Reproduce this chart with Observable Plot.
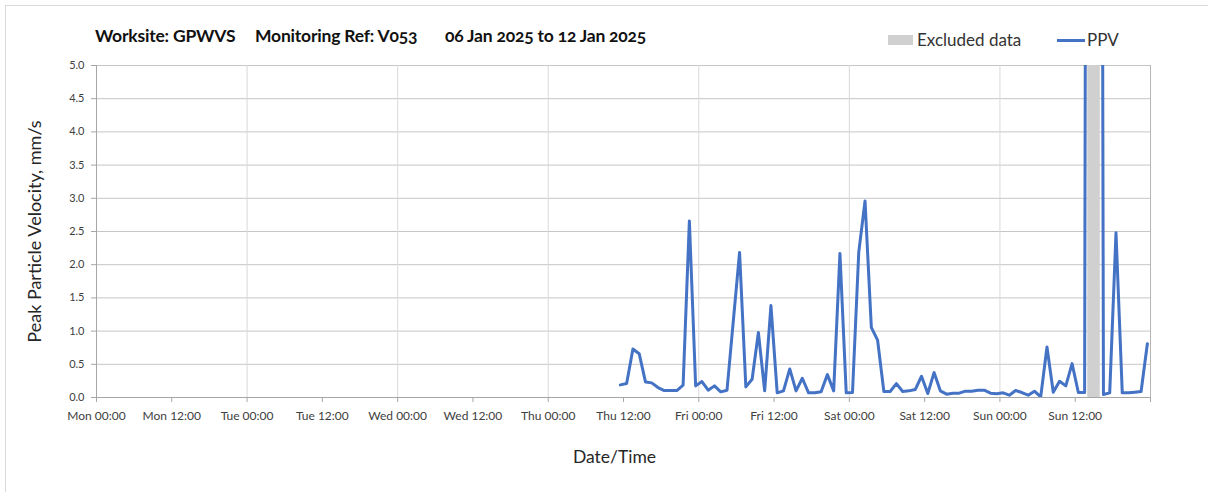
<!DOCTYPE html>
<html>
<head>
<meta charset="utf-8">
<script src="https://cdn.jsdelivr.net/npm/d3@7"></script>
<script src="https://cdn.jsdelivr.net/npm/@observablehq/plot@0.6"></script>
<style>
  html, body { margin: 0; padding: 0; background: #fff; overflow: hidden; width: 1208px; height: 492px; }
  #wrap { position: relative; width: 1208px; height: 492px; font-family: Lato, "Open Sans", sans-serif; color: #1a1a1a; }
  #border { position: absolute; left: 5px; top: 5px; width: 1400px; height: 600px; border: 1px solid #d9d9d9; box-sizing: border-box; }
  .title { position: absolute; top: 25px; font-weight: bold; font-size: 17.5px; white-space: nowrap; font-variant-numeric: oldstyle-nums; letter-spacing: -0.2px; color: #111; }
  .leg { position: absolute; top: 29px; font-size: 17px; color: #333; white-space: nowrap; }
  #chart { position: absolute; left: 0; top: 0; }
</style>
</head>
<body>
<div id="wrap">
  <div id="border"></div>
  <div id="chart"></div>
  <div class="title" id="t1" style="left:95px"></div>
  <div class="title" id="t2" style="left:255px"></div>
  <div class="title" id="t3" style="left:445px"></div>
  <div style="position:absolute;left:888px;top:35px;width:25px;height:10px;background:#d0d0d0"></div>
  <div class="leg" id="leg1" style="left:917px"></div>
  <div style="position:absolute;left:1057px;top:39px;width:28px;height:3px;background:#4472C4"></div>
  <div class="leg" id="leg2" style="left:1087px"></div>
</div>
<script>
// ---- Data ----
const titleParts = ["Worksite: GPWVS", "Monitoring Ref: V053", "06 Jan 2025 to 12 Jan 2025"];
const legendLabels = ["Excluded data", "PPV"];
const yLabel = "Peak Particle Velocity, mm/s";
const xLabel = "Date/Time";

// hourly PPV readings (mm/s), first reading Thu 09 Jan 2025 11:30
const firstReading = "2025-01-09T11:30:00Z";
const ppvValues = [
  0.19, 0.21, 0.73, 0.66, 0.235, 0.22, 0.15, 0.105, 0.105, 0.105,
  0.185, 2.66, 0.175, 0.24, 0.11, 0.175, 0.085, 0.11, 1.15, 2.185,
  0.16, 0.275, 0.98, 0.10, 1.385, 0.07, 0.10, 0.43, 0.10, 0.29,
  0.07, 0.07, 0.085, 0.345, 0.10, 2.17, 0.07, 0.075, 2.19, 2.96,
  1.055, 0.865, 0.09, 0.09, 0.21, 0.09, 0.10, 0.12, 0.32, 0.06,
  0.375, 0.10, 0.05, 0.065, 0.065, 0.095, 0.095, 0.11, 0.11, 0.065,
  0.055, 0.07, 0.035, 0.105, 0.075, 0.035, 0.095, 0.01, 0.76, 0.08,
  0.245, 0.175, 0.51, 0.075, 0.075, 48.0, 42.0, 0.045, 0.07, 2.48,
  0.07, 0.07, 0.08, 0.09, 0.81
];
const excludedStart = ["2025-01-12T14:00:00Z"];
const excludedEnd = ["2025-01-12T16:00:00Z"];

const xDomain = ["2025-01-06T00:00:00Z", "2025-01-13T00:00:00Z"];
const xTickLabels = ["Mon 00:00", "Mon 12:00", "Tue 00:00", "Tue 12:00", "Wed 00:00", "Wed 12:00", "Thu 00:00",
                     "Thu 12:00", "Fri 00:00", "Fri 12:00", "Sat 00:00", "Sat 12:00", "Sun 00:00", "Sun 12:00", ""];
const yTicks = [0, 0.5, 1, 1.5, 2, 2.5, 3, 3.5, 4, 4.5, 5];

// ---- Build ----
document.getElementById("t1").textContent = titleParts[0];
document.getElementById("t2").textContent = titleParts[1];
document.getElementById("t3").textContent = titleParts[2];
document.getElementById("leg1").textContent = legendLabels[0];
document.getElementById("leg2").textContent = legendLabels[1];

const t0 = new Date(firstReading);
const ppv = ppvValues.map((v, i) => ({time: d3.utcHour.offset(t0, i), value: v}));
const excluded = excludedStart.map((s, i) => ({start: new Date(s), end: new Date(excludedEnd[i])}));
const x0 = new Date(xDomain[0]), x1 = new Date(xDomain[1]);
const xTicks = d3.utcHour.every(12).range(x0, d3.utcHour.offset(x1, 1));
const labelMap = new Map(xTicks.map((d, i) => [+d, xTickLabels[i]]));
const dayLines = d3.utcDay.range(d3.utcDay.offset(x0, 1), x1);

const plot = Plot.plot({
  width: 1208,
  height: 492,
  marginLeft: 96,
  marginRight: 58,
  marginTop: 65,
  marginBottom: 95,
  style: {fontFamily: "Lato, 'Open Sans', sans-serif", color: "#404040", background: "transparent", overflow: "visible"},
  x: {type: "utc", domain: [x0, x1]},
  y: {domain: [0, 5]},
  marks: [
    Plot.ruleY(yTicks, {stroke: "#c6c6c6", strokeWidth: 1}),
    Plot.ruleX(dayLines, {stroke: "#d9d9d9", strokeWidth: 1}),
    Plot.rect(excluded, {x1: "start", x2: "end", y1: 0, y2: 5, fill: "#d0d0d0"}),
    Plot.ruleX([x1], {stroke: "#b5b5b5"}),
    Plot.ruleX([x0], {stroke: "#a6a6a6"}),
    Plot.ruleY([0], {stroke: "#a6a6a6"}),
    Plot.line(ppv, {x: "time", y: "value", stroke: "#4472C4", strokeWidth: 3, strokeLinejoin: "round", clip: true}),
    Plot.axisX({ticks: xTicks, tickFormat: d => labelMap.get(+d), tickSize: 5, tickPadding: 9, fontSize: 12, label: null, stroke: "#a6a6a6"}),
    Plot.axisY({ticks: yTicks, tickFormat: d3.format(".1f"), tickSize: 5, tickPadding: 7, fontSize: 11, label: null, stroke: "#a6a6a6"}),
    Plot.text([yLabel], {frameAnchor: "left", dx: -61, rotate: -90, fontSize: 18, fill: "#262626", textAnchor: "middle"}),
    Plot.text([xLabel], {frameAnchor: "bottom", dx: -9, dy: 65, fontSize: 17.5, fill: "#262626"})
  ]
});
document.getElementById("chart").appendChild(plot);
</script>
</body>
</html>
